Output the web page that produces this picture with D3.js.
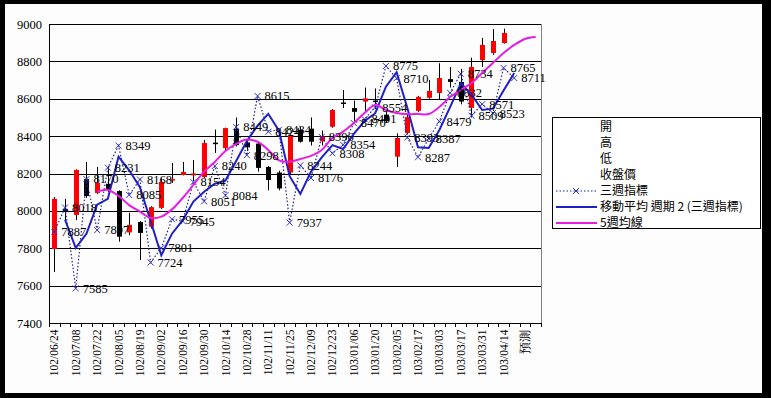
<!DOCTYPE html>
<html>
<head>
<meta charset="utf-8">
<script src="https://cdn.jsdelivr.net/npm/d3@7/dist/d3.min.js"></script>
<style>
  body { margin: 0; background: #000; }
  svg { display: block; }
  .num { font-family: "Liberation Serif", "Times New Roman", serif; font-size: 12.5px; fill: #000; }
  .leg { font-family: "Noto Sans CJK TC", sans-serif; font-size: 12px; fill: #000; }
</style>
</head>
<body>
<svg id="chart" width="771" height="398"></svg>
<script>
// weekly categories (every other one is labelled)
var weeks = ['102/06/24', '102/07/01', '102/07/08', '102/07/15', '102/07/22', '102/07/29',
  '102/08/05', '102/08/12', '102/08/19', '102/08/26', '102/09/02', '102/09/09',
  '102/09/16', '102/09/23', '102/09/30', '102/10/07', '102/10/14', '102/10/21',
  '102/10/28', '102/11/04', '102/11/11', '102/11/18', '102/11/25', '102/12/02',
  '102/12/09', '102/12/16', '102/12/23', '102/12/30', '103/01/06', '103/01/13',
  '103/01/20', '103/01/27', '103/02/05', '103/02/10', '103/02/17', '103/02/24',
  '103/03/03', '103/03/10', '103/03/17', '103/03/24', '103/03/31', '103/04/07',
  '103/04/14', '103/04/21', '預測', '103/04/28'];

var opens  = [7796, 8010, 7978, 8170, 8096, 8145, 8106, 7885, 7940, 7915, 8016, 8165, 8192, 8190, 8181,
  8365, 8336, 8440, 8365, 8360, 8235, 8205, 8205, 8433, 8440, 8372, 8450, 8580, 8550, 8585, 8590,
  8515, 8290, 8417, 8535, 8605, 8631, 8705, 8690, 8551, 8807, 8845, 8898];
var highs  = [8074, 8064, 8222, 8262, 8235, 8240, 8110, 7990, 7945, 8025, 8175, 8256, 8262, 8272, 8380,
  8435, 8445, 8500, 8380, 8365, 8240, 8215, 8410, 8450, 8500, 8430, 8545, 8647, 8590, 8660, 8655,
  8530, 8415, 8520, 8615, 8700, 8790, 8770, 8760, 8820, 8925, 8973, 8975];
var lows   = [7673, 7950, 7950, 8070, 8090, 8100, 7835, 7870, 7737, 7905, 8010, 8150, 8190, 8160, 8175,
  8310, 8320, 8345, 8320, 8210, 8110, 8110, 8195, 8365, 8350, 8350, 8445, 8550, 8475, 8530, 8545,
  8470, 8235, 8410, 8530, 8600, 8595, 8660, 8570, 8500, 8770, 8835, 8895];
var closes = [8064, 8000, 8219, 8080, 8150, 8115, 7862, 7925, 7882, 8020, 8155, 8170, 8208, 8200, 8363,
  8360, 8443, 8352, 8340, 8230, 8165, 8120, 8405, 8370, 8370, 8398, 8540, 8575, 8530, 8602, 8585,
  8480, 8390, 8502, 8610, 8642, 8711, 8690, 8585, 8770, 8888, 8909, 8952];

// 三週指標
var threeWeek = [7887, 8018, 7585, 8170, 7897, 8231, 8349, 8085, 8168, 7724, 7801, 7955, 7945, 8154,
  8051, 8240, 8084, 8449, 8298, 8615, 8424, 8434, 7937, 8244, 8176, 8396, 8308, 8354, 8470, 8491,
  8554, 8775, 8710, 8393, 8287, 8387, 8479, 8632, 8734, 8509, 8571, 8523, 8765, 8711];

// 移動平均 週期 2 (三週指標)
var threeWeekMA = [null, 7952.5, 7801.5, 7877.5, 8033.5, 8064, 8290, 8217, 8126.5, 7946, 7762.5, 7878,
  7950, 8049.5, 8102.5, 8145.5, 8162, 8266.5, 8373.5, 8456.5, 8519.5, 8429, 8185.5, 8090.5, 8210,
  8286, 8352, 8331, 8412, 8480.5, 8522.5, 8664.5, 8742.5, 8551.5, 8340, 8337, 8433, 8555.5, 8683,
  8621.5, 8540, 8547, 8644, 8738];

// 5週均線
var fiveWeekMA = [null, null, null, null, 8103, 8112, 8080, 8031, 7996, 7962, 7969, 8008, 8069, 8139,
  8210, 8262, 8320, 8358, 8382, 8370, 8326, 8270, 8263, 8278, 8294, 8326, 8390, 8424, 8470, 8524,
  8567, 8540, 8524, 8518, 8518, 8518, 8556, 8609, 8647, 8684, 8738, 8791, 8845, 8888, 8920, 8930];

var yTicks = [7400, 7600, 7800, 8000, 8200, 8400, 8600, 8800, 9000];
var legendNames = ['開', '高', '低', '收盤價', '三週指標', '移動平均  週期 2 (三週指標)', '5週均線'];

var blue = '#2020c4', pink = '#e41ee4', dotBlue = '#20209a';

var svg = d3.select('#chart');
svg.append('rect').attr('x', 5).attr('y', 4).attr('width', 757).attr('height', 389).attr('fill', '#fdfdfd');

var plotL = 49, plotR = 541, plotT = 24, plotB = 323;
var x = d3.scaleBand().domain(d3.range(weeks.length)).range([plotL, plotR]);
var y = d3.scaleLinear().domain([7400, 9000]).range([plotB, plotT]);
var cx = function(i) { return x(i) + x.bandwidth() / 2; };

// grid
svg.append('g').selectAll('line').data(yTicks).join('line')
  .attr('x1', plotL).attr('x2', plotR)
  .attr('y1', function(d) { return Math.round(y(d)) + 0.5; })
  .attr('y2', function(d) { return Math.round(y(d)) + 0.5; })
  .attr('stroke', '#000').attr('stroke-width', 1);
svg.append('line').attr('x1', plotR + 0.5).attr('x2', plotR + 0.5).attr('y1', plotT).attr('y2', plotB)
  .attr('stroke', '#808080');
svg.append('line').attr('x1', plotL + 0.5).attr('x2', plotL + 0.5).attr('y1', plotT).attr('y2', plotB + 1)
  .attr('stroke', '#000');

// y axis labels
var yAxis = svg.append('g').attr('transform', 'translate(' + plotL + ',0)')
  .call(d3.axisLeft(y).tickValues(yTicks).tickFormat(d3.format('d')).tickSize(0).tickPadding(7));
yAxis.select('.domain').remove();
yAxis.selectAll('text').attr('class', 'num');

// x axis
var xAxis = svg.append('g').attr('transform', 'translate(0,' + (Math.round(plotB) + 0.5) + ')')
  .call(d3.axisBottom(x).tickSize(0).tickFormat(function(i) { return i % 2 === 0 ? weeks[i] : ''; }));
xAxis.select('.domain').remove();
xAxis.selectAll('text').attr('class', 'num')
  .style('font-size', '11.5px')
  .attr('transform', 'rotate(-90)').attr('text-anchor', 'end')
  .attr('x', -6).attr('y', 0).attr('dy', '0.35em');
svg.append('g').selectAll('line').data(d3.range(weeks.length + 1)).join('line')
  .attr('x1', function(i) { return Math.round(plotL + i * x.bandwidth()) + 0.5; })
  .attr('x2', function(i) { return Math.round(plotL + i * x.bandwidth()) + 0.5; })
  .attr('y1', plotB).attr('y2', plotB + 4)
  .attr('stroke', '#000');

// candles
var candles = svg.append('g');
candles.selectAll('line').data(opens).join('line')
  .attr('x1', function(d, i) { return Math.round(cx(i)) + 0.5; })
  .attr('x2', function(d, i) { return Math.round(cx(i)) + 0.5; })
  .attr('y1', function(d, i) { return y(highs[i]); })
  .attr('y2', function(d, i) { return y(lows[i]); })
  .attr('stroke', '#000');
candles.selectAll('rect').data(opens).join('rect')
  .attr('x', function(d, i) { return Math.round(cx(i)) - 2; })
  .attr('width', 5)
  .attr('y', function(d, i) { return y(Math.max(d, closes[i])); })
  .attr('height', function(d, i) { return Math.max(1.5, Math.abs(y(d) - y(closes[i]))); })
  .attr('fill', function(d, i) { return closes[i] >= d ? '#ff0000' : '#000'; });

// 三週指標
svg.append('path').datum(threeWeek)
  .attr('d', d3.line().x(function(d, i) { return cx(i); }).y(function(d) { return y(d); }))
  .attr('fill', 'none').attr('stroke', dotBlue).attr('stroke-width', 1.2).attr('stroke-dasharray', '1.5,2');
var marks = svg.append('g').selectAll('g').data(threeWeek).join('g')
  .attr('transform', function(d, i) { return 'translate(' + cx(i) + ',' + y(d) + ')'; });
marks.append('path').attr('d', 'M-3,-3L3,3M-3,3L3,-3').attr('stroke', '#3434c8').attr('stroke-width', 1);

// moving average trendline
svg.append('path').datum(threeWeekMA)
  .attr('d', d3.line().defined(function(d) { return d != null; })
    .x(function(d, i) { return cx(i); }).y(function(d) { return y(d); }))
  .attr('fill', 'none').attr('stroke', blue).attr('stroke-width', 2);

// 5週均線
svg.append('path').datum(fiveWeekMA)
  .attr('d', d3.line().defined(function(d) { return d != null; }).curve(d3.curveCatmullRom)
    .x(function(d, i) { return cx(i); }).y(function(d) { return y(d); }))
  .attr('fill', 'none').attr('stroke', pink).attr('stroke-width', 2);

// data labels
svg.append('g').selectAll('text').data(threeWeek).join('text')
  .attr('class', 'num')
  .attr('x', function(d, i) { return cx(i) + 7; })
  .attr('y', function(d) { return y(d); })
  .attr('dy', '0.35em')
  .text(function(d) { return d; });

// legend
var lg = { x: 552.5, y: 117.5, w: 208, h: 111 };
svg.append('clipPath').attr('id', 'legclip').append('rect')
  .attr('x', lg.x).attr('y', lg.y).attr('width', lg.w).attr('height', lg.h);
svg.append('rect').attr('x', lg.x).attr('y', lg.y).attr('width', lg.w).attr('height', lg.h)
  .attr('fill', '#fff').attr('stroke', '#000');
var legendY = [127, 143, 159, 175, 191, 207, 223];
var items = svg.append('g').attr('clip-path', 'url(#legclip)').selectAll('g').data(legendNames).join('g')
  .attr('transform', function(d, i) { return 'translate(0,' + legendY[i] + ')'; });
items.append('text').attr('class', 'leg').attr('x', 600).attr('dy', '0.36em').text(function(d) { return d; });
items.filter(function(d, i) { return i === 4; }).call(function(g) {
  g.append('line').attr('x1', 556).attr('x2', 597).attr('stroke', dotBlue).attr('stroke-width', 1.2)
    .attr('stroke-dasharray', '1.5,2');
  g.append('path').attr('d', 'M573,-3L579,3M573,3L579,-3').attr('stroke', '#3434c8');
});
items.filter(function(d, i) { return i === 5; }).append('line')
  .attr('x1', 556).attr('x2', 597).attr('stroke', blue).attr('stroke-width', 2);
items.filter(function(d, i) { return i === 6; }).append('line')
  .attr('x1', 556).attr('x2', 597).attr('stroke', pink).attr('stroke-width', 2);
</script>
</body>
</html>
